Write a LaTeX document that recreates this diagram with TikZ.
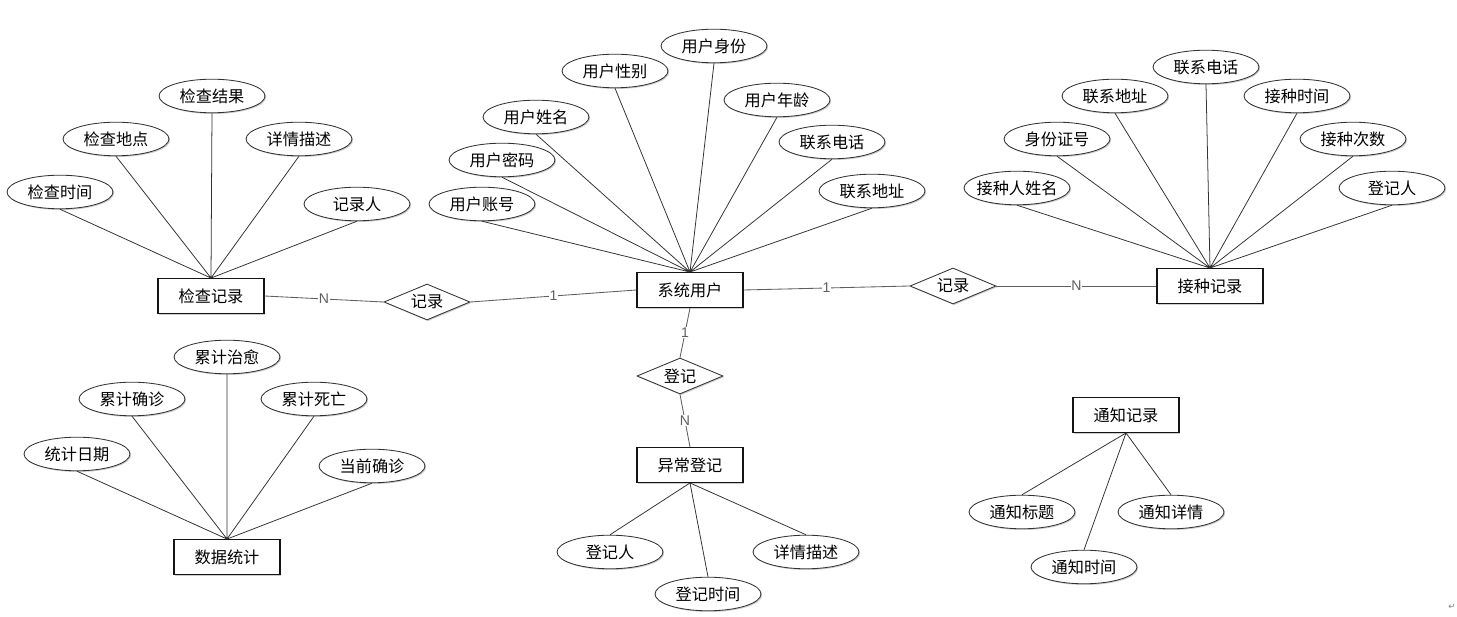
\documentclass[tikz,border=0pt]{standalone}
\usepackage{fontspec}
\setmainfont{Liberation Sans}
\newfontfamily\cjkfont{Noto Sans CJK SC}
\newfontfamily\arrowfont{DejaVu Sans}
\usetikzlibrary{shapes.geometric,shadows}
\definecolor{inkBlack}{RGB}{20,20,20}
\definecolor{lineGray}{RGB}{50,50,50}
\definecolor{cardGray}{RGB}{95,95,95}
\definecolor{shadeGray}{RGB}{205,205,205}
\tikzset{
  entity node/.style={rectangle,draw=inkBlack,fill=white,line width=.8pt,minimum width=26.5mm,minimum height=8.7mm,inner sep=0pt,font=\cjkfont\fontsize{11.5}{13}\selectfont,drop shadow={fill=shadeGray,opacity=1,shadow xshift=.35mm,shadow yshift=-.35mm}},
  attr node/.style={ellipse,draw=lineGray,fill=white,line width=.6pt,minimum width=26.5mm,minimum height=8.4mm,inner sep=0pt,inner xsep=-4mm,font=\cjkfont\fontsize{11.5}{13}\selectfont,drop shadow={fill=shadeGray,opacity=1,shadow xshift=.3mm,shadow yshift=-.3mm}},
  rel node/.style={diamond,draw=lineGray,fill=white,line width=.6pt,minimum width=21.5mm,minimum height=9mm,aspect=2.4,inner sep=0pt,font=\cjkfont\fontsize{11.5}{13}\selectfont,drop shadow={fill=shadeGray,opacity=1,shadow xshift=.3mm,shadow yshift=-.3mm}},
  attr line/.style={draw=lineGray,line width=.55pt},
  rel line/.style={draw=cardGray,line width=.6pt},
  card label/.style={fill=white,inner sep=.6pt,text=cardGray,font=\fontsize{10}{11}\selectfont}
}
\begin{document}
\begin{tikzpicture}[x=.25mm,y=-.25mm]
        \useasboundingbox[fill=white] (0,0) rectangle (1457,617);
        % entities
        \node[entity node] (jcjl) at (211,296) {检查记录};
        \node[entity node] (xtyh) at (690,290) {系统用户};
        \node[entity node] (jzjl) at (1210,286) {接种记录};
        \node[entity node] (sjtj) at (227,557) {数据统计};
        \node[entity node] (ycdj) at (690,465) {异常登记};
        \node[entity node] (tzjl) at (1126,415) {通知记录};
        % relations
        \node[rel node] (jlLeft) at (427,302) {记录};
        \node[rel node] (jlRight) at (953,286) {记录};
        \node[rel node] (dj) at (680,376) {登记};
        % 检查记录
        \node[attr node] (jcsj) at (60,192) {检查时间};
        \node[attr node] (jcdd) at (116,139) {检查地点};
        \node[attr node] (jcjg) at (212,96) {检查结果};
        \node[attr node] (jcxq) at (299,139) {详情描述};
        \node[attr node] (jcjlr) at (357,204) {记录人};
        \draw[attr line] (jcsj.south) -- (jcjl.north) (jcdd.south) -- (jcjl.north) (jcjg.south) -- (jcjl.north)
          (jcxq.south) -- (jcjl.north) (jcjlr.south) -- (jcjl.north);
        % 系统用户
        \node[attr node] (yhzh) at (482,204) {用户账号};
        \node[attr node] (yhmm) at (502,160) {用户密码};
        \node[attr node] (yhxm) at (536,117) {用户姓名};
        \node[attr node] (yhxb) at (615,71) {用户性别};
        \node[attr node] (yhsf) at (714,46) {用户身份};
        \node[attr node] (yhnl) at (777,100) {用户年龄};
        \node[attr node] (yhdh) at (832,142) {联系电话};
        \node[attr node] (yhdz) at (872,191) {联系地址};
        \draw[attr line] (yhzh.south) -- (xtyh.north) (yhmm.south) -- (xtyh.north) (yhxm.south) -- (xtyh.north)
          (yhxb.south) -- (xtyh.north) (yhsf.south) -- (xtyh.north) (yhnl.south) -- (xtyh.north)
          (yhdh.south) -- (xtyh.north) (yhdz.south) -- (xtyh.north);
        % 接种记录
        \node[attr node] (jzxm) at (1017,188) {接种人姓名};
        \node[attr node] (jzsfz) at (1057,139) {身份证号};
        \node[attr node] (jzdz) at (1115,96) {联系地址};
        \node[attr node] (jzdh) at (1206,67) {联系电话};
        \node[attr node] (jzsj) at (1297,96) {接种时间};
        \node[attr node] (jzcs) at (1353,139) {接种次数};
        \node[attr node] (jzdjr) at (1392,188) {登记人};
        \draw[attr line] (jzxm.south) -- (jzjl.north) (jzsfz.south) -- (jzjl.north) (jzdz.south) -- (jzjl.north)
          (jzdh.south) -- (jzjl.north) (jzsj.south) -- (jzjl.north) (jzcs.south) -- (jzjl.north)
          (jzdjr.south) -- (jzjl.north);
        % 数据统计
        \node[attr node] (tjrq) at (77,454) {统计日期};
        \node[attr node] (ljqz) at (132,399) {累计确诊};
        \node[attr node] (ljzy) at (227,357) {累计治愈};
        \node[attr node] (ljsw) at (314,399) {累计死亡};
        \node[attr node] (dqqz) at (372,466) {当前确诊};
        \draw[attr line] (tjrq.south) -- (sjtj.north) (ljqz.south) -- (sjtj.north) (ljzy.south) -- (sjtj.north)
          (ljsw.south) -- (sjtj.north) (dqqz.south) -- (sjtj.north);
        % 异常登记
        \node[attr node] (ycdjr) at (610,552) {登记人};
        \node[attr node] (ycsj) at (708,594) {登记时间};
        \node[attr node] (ycxq) at (806,552) {详情描述};
        \draw[attr line] (ycdj.south) -- (ycdjr.north) (ycdj.south) -- (ycsj.north) (ycdj.south) -- (ycxq.north);
        % 通知记录
        \node[attr node] (tzbt) at (1022,512) {通知标题};
        \node[attr node] (tzsj) at (1084,567) {通知时间};
        \node[attr node] (tzxq) at (1171,512) {通知详情};
        \draw[attr line] (tzjl.south) -- (tzbt.north) (tzjl.south) -- (tzsj.north) (tzjl.south) -- (tzxq.north);
        % relation lines
        \draw[rel line] (jcjl.east) -- node[card label] {N} (jlLeft.west);
        \draw[rel line] (jlLeft.east) -- node[card label] {1} (xtyh.west);
        \draw[rel line] (xtyh.east) -- node[card label] {1} (jlRight.west);
        \draw[rel line] (jlRight.east) -- node[card label] {N} (jzjl.west);
        \draw[rel line] (xtyh.south) -- node[card label] {1} (dj.north);
        \draw[rel line] (dj.south) -- node[card label] {N} (ycdj.north);
        \node[text=gray,font=\arrowfont\fontsize{6}{7}\selectfont] (endmark) at (1452,607) {↵};
      \end{tikzpicture}
\end{document}
